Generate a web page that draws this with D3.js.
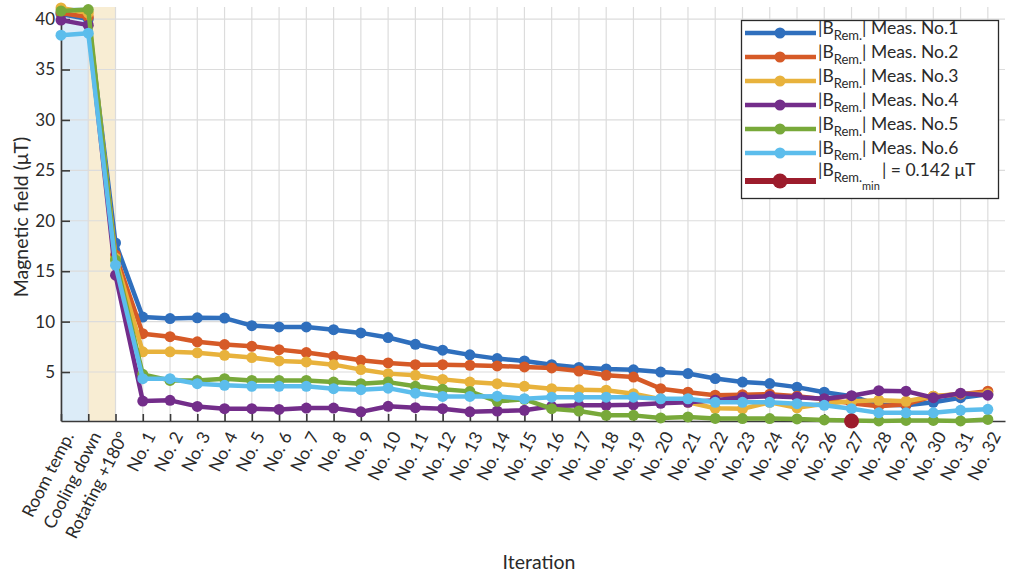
<!DOCTYPE html>
<html>
<head>
<meta charset="utf-8">
<script src="https://cdn.jsdelivr.net/npm/d3@7"></script>
<style>
  html, body { margin: 0; padding: 0; background: #fff; }
  svg { display: block; font-family: Lato, "Open Sans", sans-serif; }
</style>
</head>
<body>
<svg id="chart" width="1024" height="577"></svg>
<script>
const categories = ["Room temp.", "Cooling down", "Rotating +180°",
  "No. 1","No. 2","No. 3","No. 4","No. 5","No. 6","No. 7","No. 8","No. 9","No. 10",
  "No. 11","No. 12","No. 13","No. 14","No. 15","No. 16","No. 17","No. 18","No. 19","No. 20",
  "No. 21","No. 22","No. 23","No. 24","No. 25","No. 26","No. 27","No. 28","No. 29","No. 30",
  "No. 31","No. 32"];

const meas1 = [40.5, 40.0, 17.8, 10.45, 10.3, 10.37, 10.35, 9.6, 9.47, 9.47, 9.2, 8.88, 8.42,
  7.75, 7.16, 6.7, 6.33, 6.1, 5.73, 5.45, 5.3, 5.22, 5.0, 4.85, 4.35, 4.0, 3.85, 3.5,
  3.0, 2.6, 1.75, 1.7, 2.0, 2.45, 2.8];
const meas2 = [40.6, 40.2, 16.6, 8.8, 8.5, 8.0, 7.72, 7.55, 7.22, 6.93, 6.56, 6.16, 5.9,
  5.73, 5.73, 5.67, 5.6, 5.5, 5.4, 5.1, 4.67, 4.5, 3.35, 3.0, 2.7, 2.75, 2.8, 2.6,
  2.3, 1.9, 1.6, 1.8, 2.6, 2.8, 3.1];
const meas3 = [41.1, 40.6, 16.3, 7.0, 7.0, 6.9, 6.66, 6.43, 6.1, 6.0, 5.73, 5.24, 4.84,
  4.67, 4.27, 4.0, 3.84, 3.58, 3.35, 3.25, 3.2, 2.85, 2.3, 2.0, 1.4, 1.35, 2.0, 1.45,
  1.85, 2.1, 2.2, 2.1, 2.6, 2.85, 2.85];
const meas4 = [39.9, 39.4, 14.6, 2.12, 2.19, 1.59, 1.36, 1.36, 1.29, 1.42, 1.42, 1.05, 1.6,
  1.46, 1.36, 1.05, 1.13, 1.2, 1.6, 1.7, 1.7, 1.75, 1.9, 2.0, 2.2, 2.5, 2.6, 2.5,
  2.35, 2.65, 3.15, 3.1, 2.45, 2.9, 2.7];
const meas5 = [40.8, 40.95, 16.1, 4.77, 4.17, 4.17, 4.34, 4.17, 4.17, 4.17, 4.0, 3.84, 4.0,
  3.58, 3.28, 3.08, 2.09, 2.29, 1.36, 1.13, 0.7, 0.7, 0.45, 0.55, 0.4, 0.38, 0.38, 0.35,
  0.25, 0.2, 0.15, 0.2, 0.2, 0.15, 0.3];
const meas6 = [38.4, 38.6, 15.6, 4.34, 4.34, 3.84, 3.68, 3.58, 3.58, 3.58, 3.35, 3.25, 3.4,
  2.9, 2.58, 2.58, 2.6, 2.35, 2.5, 2.5, 2.5, 2.5, 2.35, 2.35, 2.0, 2.0, 2.0, 1.86,
  1.7, 1.36, 0.95, 0.95, 0.95, 1.2, 1.3];
const seriesValues = [meas1, meas2, meas3, meas4, meas5, meas6];
const seriesNames = ["Meas. No.1", "Meas. No.2", "Meas. No.3", "Meas. No.4", "Meas. No.5", "Meas. No.6"];
const seriesColors = ["#2f6fbd", "#d65a27", "#e8b23c", "#732d8a", "#78a93a", "#5cbdec"];
const minIndex = 29;          // "No. 27"
const minValue = 0.142;
const minColor = "#9c1c2c";
const yTicks = [5, 10, 15, 20, 25, 30, 35, 40];
const bands = [{from: 0, to: 1, color: "#dcecf8"}, {from: 1, to: 2, color: "#f8edd3"}];

const svg = d3.select("#chart");
const m = {left: 61, right: 1005, top: 7, bottom: 421};

const x = d3.scaleLinear().domain([0, 34.63]).range([m.left, m.right]);
const y = d3.scaleLinear().domain([minValue, 41.2]).range([m.bottom, m.top]);

// background bands
svg.selectAll("rect.band").data(bands).join("rect")
  .attr("class", "band")
  .attr("x", d => x(d.from)).attr("width", d => x(d.to) - x(d.from))
  .attr("y", m.top).attr("height", m.bottom - m.top)
  .attr("fill", d => d.color);

// grid
const grid = svg.append("g");
grid.selectAll("line.vg").data(d3.range(categories.length)).join("line")
  .attr("x1", d => x(d)).attr("x2", d => x(d))
  .attr("y1", m.top).attr("y2", m.bottom)
  .attr("stroke", "#dcdcdc").attr("stroke-width", 1.2);
grid.selectAll("line.hg").data(yTicks).join("line")
  .attr("x1", m.left).attr("x2", m.right)
  .attr("y1", d => y(d)).attr("y2", d => y(d))
  .attr("stroke", "#dcdcdc").attr("stroke-width", 1.2);

// axes
const xAxis = d3.axisBottom(x)
  .tickValues(d3.range(categories.length))
  .tickSizeInner(-7).tickSizeOuter(0)
  .tickFormat(() => "");
const gx = svg.append("g").attr("transform", `translate(0,${m.bottom})`).call(xAxis);
gx.select(".domain").attr("stroke", "#3a3a3a").attr("stroke-width", 1.6);
gx.selectAll(".tick line").attr("stroke", "#3a3a3a").attr("stroke-width", 1.6);

const yAxis = d3.axisLeft(y).tickValues(yTicks).tickSizeInner(-9).tickSizeOuter(0).tickPadding(8);
const gy = svg.append("g").attr("transform", `translate(${m.left},0)`).call(yAxis);
gy.select(".domain").attr("stroke", "#3a3a3a").attr("stroke-width", 1.6);
gy.selectAll(".tick line").attr("stroke", "#3a3a3a").attr("stroke-width", 1.6);
gy.selectAll(".tick text").attr("font-size", 17).attr("fill", "#2a2a2a")
  .attr("font-family", "Lato, sans-serif").attr("x", -6);

// rotated x labels
svg.append("g").selectAll("text").data(categories).join("text")
  .attr("transform", (d, i) => `translate(${x(i) + 8},${m.bottom + 12}) rotate(-63)`)
  .attr("text-anchor", "end").attr("dy", "0.35em")
  .attr("font-size", 17.5).attr("fill", "#2a2a2a")
  .text(d => d);

// series
const line = d3.line().x((d, i) => x(i)).y(d => y(d));
seriesValues.forEach((vals, s) => {
  const g = svg.append("g");
  g.append("path").datum(vals).attr("d", line)
    .attr("fill", "none").attr("stroke", seriesColors[s]).attr("stroke-width", 4.5)
    .attr("stroke-linejoin", "round");
  g.selectAll("circle").data(vals).join("circle")
    .attr("cx", (d, i) => x(i)).attr("cy", d => y(d)).attr("r", 5.5)
    .attr("fill", seriesColors[s]);
});
svg.append("circle").attr("cx", x(minIndex)).attr("cy", y(minValue)).attr("r", 7.5)
  .attr("fill", minColor);

// axis titles
svg.append("text").attr("transform", `translate(28,${(m.top + m.bottom) / 2 + 3}) rotate(-90)`)
  .attr("text-anchor", "middle").attr("font-size", 19.5).attr("fill", "#2a2a2a")
  .text("Magnetic field (μT)");
svg.append("text").attr("x", 539).attr("y", 569)
  .attr("text-anchor", "middle").attr("font-size", 19.5).attr("fill", "#2a2a2a")
  .text("Iteration");

// legend
const lg = svg.append("g");
lg.append("rect").attr("x", 741.5).attr("y", 20.5).attr("width", 257).attr("height", 178)
  .attr("fill", "#fff").attr("stroke", "#2a2a2a").attr("stroke-width", 1.3);
const rowY = [33, 57, 81, 105, 129, 153, 181];
const legendItems = seriesNames.map((n, i) => ({name: n, color: seriesColors[i], min: false}))
  .concat([{name: "| = 0.142 μT", color: minColor, min: true}]);
legendItems.forEach((it, i) => {
  const cy = rowY[i];
  lg.append("line").attr("x1", 745).attr("x2", 816).attr("y1", cy).attr("y2", cy)
    .attr("stroke", it.color).attr("stroke-width", it.min ? 6 : 4.5);
  lg.append("circle").attr("cx", 780).attr("cy", cy).attr("r", it.min ? 7.5 : 5.5)
    .attr("fill", it.color);
  const t = lg.append("text").attr("x", 818).attr("y", cy + 1 + (it.min ? -6 : 0))
    .attr("font-size", 17.5).attr("fill", "#2a2a2a");
  t.append("tspan").text("|B");
  t.append("tspan").attr("dy", 6).attr("font-size", 13).text("Rem.");
  if (!it.min) {
    t.append("tspan").attr("dy", -6).text("| " + it.name);
  } else {
    t.append("tspan").attr("dy", 8).attr("font-size", 11).text("min");
    t.append("tspan").attr("dy", -14).attr("dx", 2).text(it.name);
  }
});
</script>
</body>
</html>
